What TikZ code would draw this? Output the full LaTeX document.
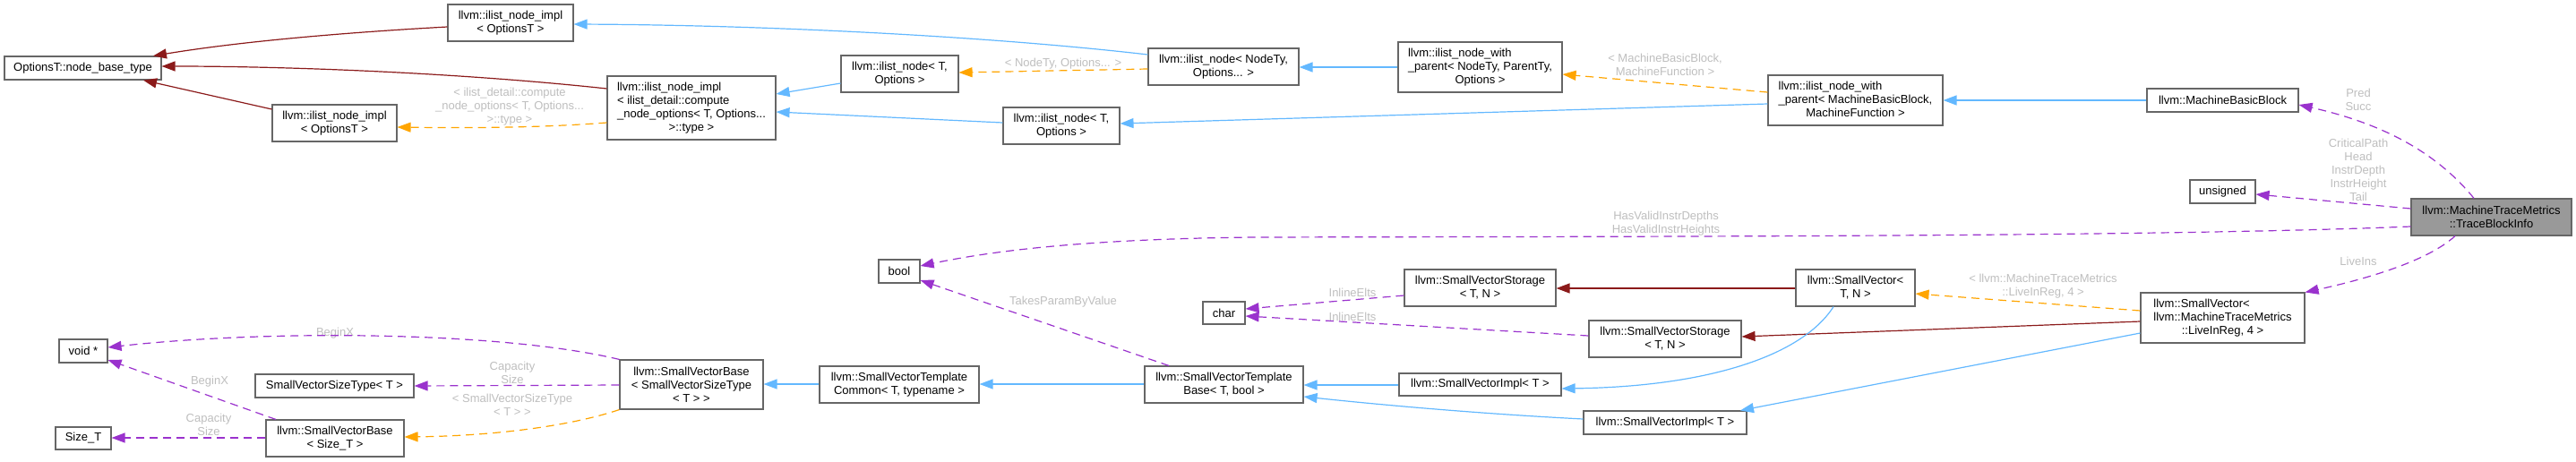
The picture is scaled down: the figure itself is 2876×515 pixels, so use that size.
\documentclass[tikz,border=0pt]{standalone}
\usepackage{fontspec}
\setmainfont{Liberation Sans}
\usetikzlibrary{arrows.meta}
\definecolor{boxc}{HTML}{666666}
\definecolor{mainfill}{HTML}{999999}
\definecolor{bluec}{HTML}{63B8FF}
\definecolor{redc}{HTML}{8B1A1A}
\definecolor{orangec}{HTML}{FFA500}
\definecolor{purplec}{HTML}{9A32CD}
\definecolor{lblc}{HTML}{BEBEBE}
\newcommand\bx[7][]{\node[box,#1,minimum width={(#4-#2)*1pt},minimum height={(#5-#3)*1pt}] (#6) at ({(#2+#4)/2},{(#3+#5)/2}) {#7};}
\newcommand\lft[2]{\begin{tabular}{@{}l@{}}#1\\\multicolumn{1}{@{}c@{}}{#2}\end{tabular}}
\tikzset{
  box/.style={draw=boxc, line width=1.1pt, fill=white, inner sep=0pt, font=\fontsize{13}{15}\selectfont, align=center, text=black},
  lbl/.style={text=lblc, inner sep=0pt, font=\fontsize{13}{15}\selectfont, align=center},
  edg/.style={line width=1.2pt, -{Triangle[length=15pt,width=11pt]}},
  pub/.style={edg, draw=bluec},
  priv/.style={edg, draw=redc},
  tmpl/.style={edg, draw=orangec, dash pattern=on 9pt off 6pt},
  use/.style={edg, draw=purplec, dash pattern=on 9pt off 6pt},
}
\begin{document}
\begin{tikzpicture}[x=1pt,y=-1pt]
\useasboundingbox (0,0) rectangle (2876,515);
% nodes
\bx{5}{63}{180}{89}{nbt}{OptionsT::node\_base\_type}
\bx{500}{5}{640}{46}{implT}{llvm::ilist\_node\_impl\\< OptionsT >}
\bx{304}{117}{443}{158}{implL}{llvm::ilist\_node\_impl\\< OptionsT >}
\bx{678}{85}{866}{156}{implB}{\lft{llvm::ilist\_node\_impl\\< ilist\_detail::compute\\\_node\_options< T, Options...}{>::type >}}
\bx{939}{62}{1070}{103}{inodeU}{llvm::ilist\_node< T,\\Options >}
\bx{1120}{120}{1250}{161}{inodeL}{llvm::ilist\_node< T,\\Options >}
\bx{1282}{54}{1450}{95}{inodeNT}{llvm::ilist\_node< NodeTy,\\Options... >}
\bx{1561}{47}{1744}{103}{inwpG}{\lft{llvm::ilist\_node\_with\\\_parent< NodeTy, ParentTy,}{Options >}}
\bx{1974}{84}{2169}{140}{inwpM}{\lft{llvm::ilist\_node\_with\\\_parent< MachineBasicBlock,}{MachineFunction >}}
\bx{2397}{99}{2566}{125}{mbb}{llvm::MachineBasicBlock}
\bx{2445}{201}{2518}{227}{uns}{unsigned}
\bx[fill=mainfill]{2692}{222}{2871}{263}{tbi}{llvm::MachineTraceMetrics\\::TraceBlockInfo}
\bx{2390}{327}{2573}{383}{svLive}{\lft{llvm::SmallVector<\\ llvm::MachineTraceMetrics}{::LiveInReg, 4 >}}
\bx{2005}{301}{2138}{342}{svTN}{llvm::SmallVector<\\T, N >}
\bx{1568}{301}{1737}{342}{svsU}{llvm::SmallVectorStorage\\< T, N >}
\bx{1774}{358}{1944}{399}{svsL}{llvm::SmallVectorStorage\\< T, N >}
\bx{1562}{417}{1743}{442}{sviU}{llvm::SmallVectorImpl< T >}
\bx{1768}{459}{1950}{485}{sviL}{llvm::SmallVectorImpl< T >}
\bx{1278}{409}{1455}{450}{svtb}{llvm::SmallVectorTemplate\\Base< T, bool >}
\bx{915}{409}{1093}{450}{svtc}{llvm::SmallVectorTemplate\\Common< T, typename >}
\bx{1343}{337}{1390}{362}{chr}{char}
\bx{981}{290}{1027}{316}{bool}{bool}
\bx{692}{402}{852}{457}{svbT}{llvm::SmallVectorBase\\< SmallVectorSizeType\\< T > >}
\bx{285}{418}{462}{444}{svst}{SmallVectorSizeType< T >}
\bx{297}{469}{451}{510}{svbS}{llvm::SmallVectorBase\\< Size\_T >}
\bx{66}{379}{120}{405}{voidp}{void *}
\bx{62}{477}{124}{502}{sizet}{Size\_T}
% edge labels
\node[lbl] (l1) at (569,119) {< ilist\_detail::compute\\\_node\_options< T, Options...\\>::type >};
\node[lbl] (l2) at (1187,71) {< NodeTy, Options... >};
\node[lbl] (l3) at (1859,72) {< MachineBasicBlock,\\MachineFunction >};
\node[lbl] (l4) at (2633,111) {Pred\\Succ};
\node[lbl] (l5) at (2633,190) {CriticalPath\\Head\\InstrDepth\\InstrHeight\\Tail};
\node[lbl] (l6) at (1860,250) {HasValidInstrDepths\\HasValidInstrHeights};
\node[lbl] (l7) at (2633,292) {LiveIns};
\node[lbl] (l8) at (2281,320) {< llvm::MachineTraceMetrics\\::LiveInReg, 4 >};
\node[lbl] (l9) at (1510,327) {InlineElts};
\node[lbl] (l10) at (1510,354) {InlineElts};
\node[lbl] (l11) at (1187,337) {TakesParamByValue};
\node[lbl] (l12) at (374,372) {BeginX};
\node[lbl] (l13) at (572,416) {Capacity\\Size};
\node[lbl] (l14) at (572,452) {< SmallVectorSizeType\\< T > >};
\node[lbl] (l15) at (234,426) {BeginX};
\node[lbl] (l16) at (233,474) {Capacity\\Size};
% edges
\draw[priv] (implT.west |- 0,30) .. controls (390,36) and (270,46) .. (nbt.north -| 171,0);
\draw[priv] (implB.west |- 0,99) .. controls (520,82) and (330,74) .. (nbt.east |- 0,74);
\draw[priv] (implL.west |- 0,122) -- (nbt.south -| 160,0);
\draw[tmpl] (implB.west |- 0,137) .. controls (600,143) and (520,143) .. (implL.east |- 0,142);
\draw[pub] (inodeNT.west |- 0,61) .. controls (1100,40) and (850,28) .. (implT.east |- 0,27);
\draw[pub] (inodeU.west |- 0,93) -- (implB.east |- 0,105);
\draw[pub] (inodeL.west |- 0,137) -- (implB.east |- 0,125);
\draw[tmpl] (inodeNT.west |- 0,77) -- (inodeU.east |- 0,81);
\draw[pub] (inwpG.west |- 0,75) -- (inodeNT.east |- 0,75);
\draw[pub] (inwpM.west |- 0,116) -- (inodeL.east |- 0,138);
\draw[tmpl] (inwpM.west |- 0,103) -- (inwpG.east |- 0,83);
\draw[pub] (mbb.west |- 0,112) -- (inwpM.east |- 0,112);
\draw[use] (tbi.north -| 2762,0) .. controls (2720,170) and (2660,138) .. (mbb.east |- 0,117);
\draw[use] (tbi.west |- 0,233) -- (uns.east |- 0,217);
\draw[use] (tbi.west |- 0,253) .. controls (2400,265) and (1800,264) .. (1400,265) .. controls (1200,267) and (1100,282) .. (bool.east |- 0,297);
\draw[use] (tbi.south -| 2741,0) .. controls (2710,292) and (2640,312) .. (svLive.north east);
\draw[tmpl] (svLive.west |- 0,347) -- (svTN.east |- 0,328);
\draw[priv] (svLive.west |- 0,359) -- (svsL.east |- 0,376);
\draw[pub] (svLive.west |- 0,372) -- (sviL.north -| 1943,0);
\draw[priv] (svTN.west |- 0,322) -- (svsU.east |- 0,322);
\draw[pub] (svTN.south -| 2047,0) .. controls (2010,400) and (1900,432) .. (sviU.east |- 0,434);
\draw[use] (svsU.west |- 0,330) -- (chr.east |- 0,345);
\draw[use] (svsL.west |- 0,375) -- (chr.east |- 0,353);
\draw[pub] (sviU.west |- 0,430) -- (svtb.east |- 0,430);
\draw[pub] (sviL.west |- 0,468) .. controls (1650,462) and (1540,452) .. (svtb.east |- 0,443);
\draw[use] (svtb.north -| 1305,0) -- (bool.east |- 0,313);
\draw[pub] (svtb.west |- 0,429) -- (svtc.east |- 0,429);
\draw[pub] (svtc.west |- 0,429) -- (svbT.east |- 0,429);
\draw[use] (svbT.north west) .. controls (560,370) and (300,368) .. (voidp.east |- 0,388);
\draw[use] (svbT.west |- 0,430) -- (svst.east |- 0,431);
\draw[tmpl] (svbT.south west) .. controls (630,478) and (540,487) .. (svbS.east |- 0,488);
\draw[use] (svbS.north -| 308,0) -- (voidp.east |- 0,402);
\draw[use] (svbS.west |- 0,489) -- (sizet.east |- 0,489);
\end{tikzpicture}
\end{document}
